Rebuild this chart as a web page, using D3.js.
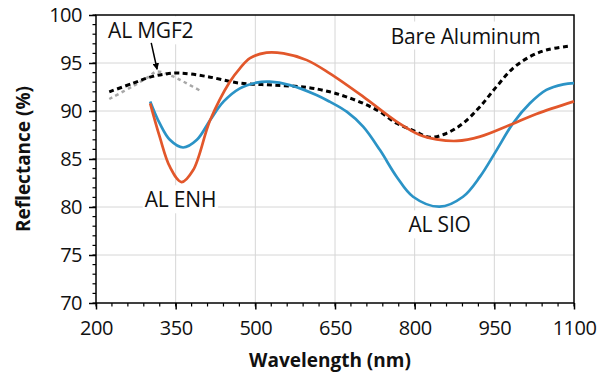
<!DOCTYPE html>
<html>
<head>
<meta charset="utf-8">
<script src="https://cdn.jsdelivr.net/npm/d3@7"></script>
<style>
  body { margin: 0; background: #fff; }
  svg { font-family: "Open Sans", "Noto Sans", sans-serif; }
</style>
</head>
<body>
<svg id="chart" width="599" height="379"></svg>
<script>
// wavelength (nm) / reflectance (%)
var bareWl = [225, 270, 300, 330, 358, 408, 471, 534, 597, 640, 670, 703, 735, 766, 800, 829, 860, 891, 923, 954, 985, 1017, 1048, 1092];
var bareR  = [92.0, 92.9, 93.5, 93.85, 93.95, 93.6, 92.9, 92.7, 92.46, 92.0, 91.5, 90.8, 89.9, 88.72, 87.9, 87.26, 87.68, 88.72, 90.45, 92.53, 94.45, 95.66, 96.35, 96.77];

var mgfWl = [225, 270, 300, 314, 345, 370, 400];
var mgfR  = [91.25, 92.6, 93.6, 94.1, 93.6, 92.9, 92.0];

var sioWl = [302, 320, 339, 364, 390, 415, 440, 471, 502, 527, 565, 615, 640, 672, 703, 735, 766, 797, 847, 891, 923, 954, 985, 1017, 1048, 1080, 1100];
var sioR  = [91.0, 88.7, 87.0, 86.2, 87.0, 89.06, 90.97, 92.36, 92.95, 93.05, 92.7, 91.67, 90.97, 89.93, 88.37, 85.9, 83.16, 81.07, 80.03, 81.07, 83.16, 85.9, 88.7, 90.8, 92.2, 92.78, 92.9];

var enhWl = [302, 320, 339, 361, 383, 415, 452, 471, 490, 521, 553, 597, 640, 703, 766, 810, 841, 879, 923, 979, 1029, 1100];
var enhR  = [90.8, 87.3, 84.2, 82.6, 83.85, 89.06, 93.05, 94.45, 95.5, 96.08, 96.0, 95.3, 93.92, 91.5, 88.9, 87.5, 87.05, 86.88, 87.33, 88.54, 89.69, 91.0];

var xTicks = [200, 350, 500, 650, 800, 950, 1100];
var yTicks = [70, 75, 80, 85, 90, 95, 100];

// labels: [text, wavelength, reflectance at baseline]
var labels = [
  ["Bare Aluminum", 896, 97.03],
  ["AL MGF2", 303, 97.57],
  ["AL ENH", 359, 79.97],
  ["AL SIO", 847, 77.36]
];
var arrowFrom = [304, 97.1], arrowTo = [315, 94.35];

var margin = {top: 15, right: 25, bottom: 76, left: 96};
var width = 599 - margin.left - margin.right,
    height = 379 - margin.top - margin.bottom;

var x = d3.scaleLinear().domain([200, 1100]).range([0, width]);
var y = d3.scaleLinear().domain([70, 100]).range([height, 0]);

var svg = d3.select("#chart");
var g = svg.append("g").attr("transform", "translate(" + margin.left + "," + margin.top + ")");

// grid
g.append("g").selectAll("line").data(xTicks.slice(1, -1)).enter().append("line")
  .attr("x1", function(d) { return x(d); }).attr("x2", function(d) { return x(d); })
  .attr("y1", 0).attr("y2", height)
  .attr("stroke", "#d6d6d6").attr("stroke-width", 1);
g.append("g").selectAll("line").data(yTicks.slice(1, -1)).enter().append("line")
  .attr("y1", function(d) { return y(d); }).attr("y2", function(d) { return y(d); })
  .attr("x1", 0).attr("x2", width)
  .attr("stroke", "#d6d6d6").attr("stroke-width", 1);

// minor ticks
var xMinor = d3.range(200, 1101, 30);
var yMinor = d3.range(70, 100.5, 1);
g.append("g").selectAll("line").data(xMinor).enter().append("line")
  .attr("x1", function(d) { return x(d); }).attr("x2", function(d) { return x(d); })
  .attr("y1", height).attr("y2", height + 3.5)
  .attr("stroke", "#000").attr("stroke-width", 1.2);
g.append("g").selectAll("line").data(yMinor).enter().append("line")
  .attr("y1", function(d) { return y(d); }).attr("y2", function(d) { return y(d); })
  .attr("x1", 0).attr("x2", -3.5)
  .attr("stroke", "#000").attr("stroke-width", 1.2);

// axes
var xAxis = g.append("g").attr("transform", "translate(0," + height + ")")
  .call(d3.axisBottom(x).tickValues(xTicks).tickSize(6.5).tickPadding(6).tickFormat(d3.format("d")));
var yAxis = g.append("g")
  .call(d3.axisLeft(y).tickValues(yTicks).tickSize(7).tickPadding(7).tickFormat(d3.format("d")));
[xAxis, yAxis].forEach(function(a) {
  a.select(".domain").remove();
  a.selectAll("line").attr("stroke", "#000").attr("stroke-width", 1.5);
  a.selectAll("text").attr("font-size", 20).attr("fill", "#111").attr("font-family", "Open Sans").attr("letter-spacing", -0.5);
});
xAxis.selectAll("text").attr("dy", "0.95em");

// box
g.append("rect").attr("width", width).attr("height", height)
  .attr("fill", "none").attr("stroke", "#000").attr("stroke-width", 1.5);

// curves
function mk(wl, r) { return wl.map(function(d, i) { return [d, r[i]]; }); }
var line = d3.line()
  .x(function(d) { return x(d[0]); })
  .y(function(d) { return y(d[1]); })
  .curve(d3.curveCatmullRom.alpha(0.5));

g.append("path").datum(mk(mgfWl, mgfR)).attr("d", line)
  .attr("fill", "none").attr("stroke", "#a8a8a8").attr("stroke-width", 2.5).attr("stroke-dasharray", "3.5,3.5");
g.append("path").datum(mk(bareWl, bareR)).attr("d", line)
  .attr("fill", "none").attr("stroke", "#000").attr("stroke-width", 3).attr("stroke-dasharray", "5,3.5");
g.append("path").datum(mk(sioWl, sioR)).attr("d", line)
  .attr("fill", "none").attr("stroke", "#2b93c6").attr("stroke-width", 2.7);
g.append("path").datum(mk(enhWl, enhR)).attr("d", line)
  .attr("fill", "none").attr("stroke", "#e2572b").attr("stroke-width", 2.7);

// labels with white boxes
labels.forEach(function(l) {
  var lg = g.append("g");
  var t = lg.append("text")
    .attr("x", x(l[1])).attr("y", y(l[2]))
    .attr("text-anchor", "middle")
    .attr("font-size", 21).attr("fill", "#111").attr("letter-spacing", -0.2)
    .text(l[0]);
  var b = t.node().getBBox();
  lg.insert("rect", "text")
    .attr("x", b.x - 2).attr("y", b.y).attr("width", b.width + 4).attr("height", b.height)
    .attr("fill", "#fff");
});

// arrow
svg.append("defs").append("marker")
  .attr("id", "ah").attr("viewBox", "0 0 10 10").attr("refX", 9).attr("refY", 5)
  .attr("markerWidth", 4.5).attr("markerHeight", 4.5).attr("orient", "auto")
  .append("path").attr("d", "M0,0L10,5L0,10z").attr("fill", "#000");
g.append("line")
  .attr("x1", x(arrowFrom[0])).attr("y1", y(arrowFrom[1]))
  .attr("x2", x(arrowTo[0])).attr("y2", y(arrowTo[1]))
  .attr("stroke", "#000").attr("stroke-width", 1.5).attr("marker-end", "url(#ah)");

// axis titles
svg.append("text").attr("x", 330).attr("y", 367)
  .attr("text-anchor", "middle").attr("font-size", 19).attr("font-weight", "bold").attr("fill", "#111")
  .text("Wavelength (nm)");
svg.append("text").attr("transform", "translate(30,159) rotate(-90)")
  .attr("text-anchor", "middle").attr("font-size", 19).attr("font-weight", "bold").attr("fill", "#111")
  .text("Reflectance (%)");
</script>
</body>
</html>
